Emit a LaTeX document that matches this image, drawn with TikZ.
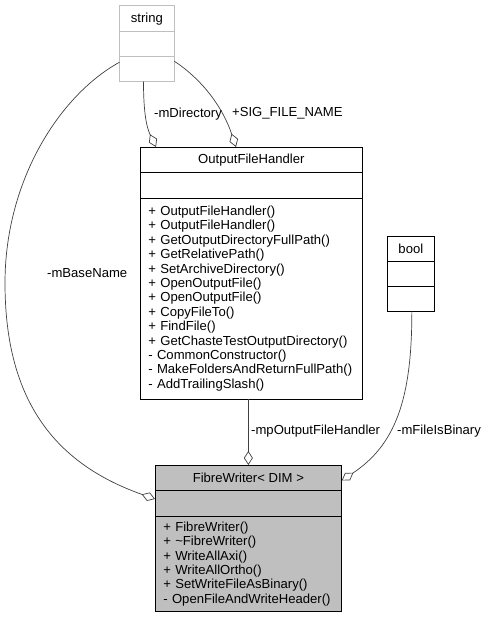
\documentclass[tikz,border=0pt]{standalone}
\usepackage{fontspec}
\setmainfont{Liberation Sans}
\usetikzlibrary{arrows.meta,positioning}
\definecolor{boxgray}{HTML}{BFBFBF}
\definecolor{edgegray}{HTML}{404040}
\hyphenpenalty=10000

\begin{document}
\begin{tikzpicture}[x=1pt,y=-1pt,
    font=\fontsize{13.1}{14.4}\selectfont,
    part/.style={draw=black,line width=0.9pt,inner sep=0pt,outer sep=0pt,align=center},
    ops/.style={part,align=left,inner xsep=8.3pt},
    agg/.style={draw=edgegray,line width=0.7pt,-{Diamond[open,length=14pt,width=9pt]}},
    lbl/.style={inner sep=0pt,anchor=west}]
    \useasboundingbox (0,0) rectangle (486,621);
    % string
    \node[part,draw=boxgray,anchor=north west,minimum width=54.8pt,minimum height=26pt] (S) at (119.5,5.7) {string};
    \node[part,draw=boxgray,below=0pt of S,minimum width=54.8pt,minimum height=25pt] (S1) {};
    \node[part,draw=boxgray,below=0pt of S1,minimum width=54.8pt,minimum height=25pt] (S2) {};
    % OutputFileHandler
    \node[part,anchor=north west,minimum width=222.7pt,minimum height=25.7pt] (O) at (140,147) {OutputFileHandler};
    \node[part,below=0pt of O,minimum width=222.7pt,minimum height=25.3pt] (O1) {};
    \node[ops,below=0pt of O1,text width=206.1pt,minimum height=201pt] (O2) {+ OutputFileHandler()\\
        + OutputFileHandler()\\
        + GetOutputDirectoryFullPath()\\
        + GetRelativePath()\\
        + SetArchiveDirectory()\\
        + OpenOutputFile()\\
        + OpenOutputFile()\\
        + CopyFileTo()\\
        + FindFile()\\
        + GetChasteTestOutputDirectory()\\
        - CommonConstructor()\\
        - MakeFoldersAndReturnFullPath()\\
        - AddTrailingSlash()};
    % bool
    \node[part,anchor=north west,minimum width=46.3pt,minimum height=25pt] (B) at (387.7,236) {bool};
    \node[part,below=0pt of B,minimum width=46.3pt,minimum height=25pt] (B1) {};
    \node[part,below=0pt of B1,minimum width=46.3pt,minimum height=25pt] (B2) {};
    % FibreWriter
    \node[part,fill=boxgray,anchor=north west,minimum width=186.7pt,minimum height=25pt] (F) at (155,465) {FibreWriter< DIM >};
    \node[part,fill=boxgray,below=0pt of F,minimum width=186.7pt,minimum height=26pt] (F1) {};
    \node[ops,fill=boxgray,below=0pt of F1,text width=170.1pt,minimum height=95.7pt] (F2) {+ FibreWriter()\\
        + \textasciitilde FibreWriter()\\
        + WriteAllAxi()\\
        + WriteAllOrtho()\\
        + SetWriteFileAsBinary()\\
        - OpenFileAndWriteHeader()};
    % aggregations
    \draw[agg] ([xshift=-3.4pt]S2.south) .. controls (143.5,110) and (146,126) .. ([xshift=16pt]O.north west);
    \draw[agg] ([yshift=8pt]S2.east) .. controls (200,78) and (222,105) .. ([xshift=96pt]O.north west);
    \draw[agg] ([yshift=7pt]S2.west) .. controls (60,95) and (5,180) .. (5,283)
        .. controls (5,395) and (50,462) .. ([yshift=4pt]F1.west);
    \draw[agg] (O2.south -| F.north) -- (F.north);
    \draw[agg] ([xshift=1pt]B2.south) .. controls (412,400) and (395,445) .. ([yshift=-3pt]F.east);
    % labels
    \node[lbl] (lDir) at (154,114) {-mDirectory};
    \node[lbl] (lSig) at (232,113) {+SIG\_FILE\_NAME};
    \node[lbl] (lBase) at (47,273) {-mBaseName};
    \node[lbl] (lOfh) at (251,431) {-mpOutputFileHandler};
    \node[lbl] (lBin) at (397,431) {-mFileIsBinary};
\end{tikzpicture}
\end{document}
